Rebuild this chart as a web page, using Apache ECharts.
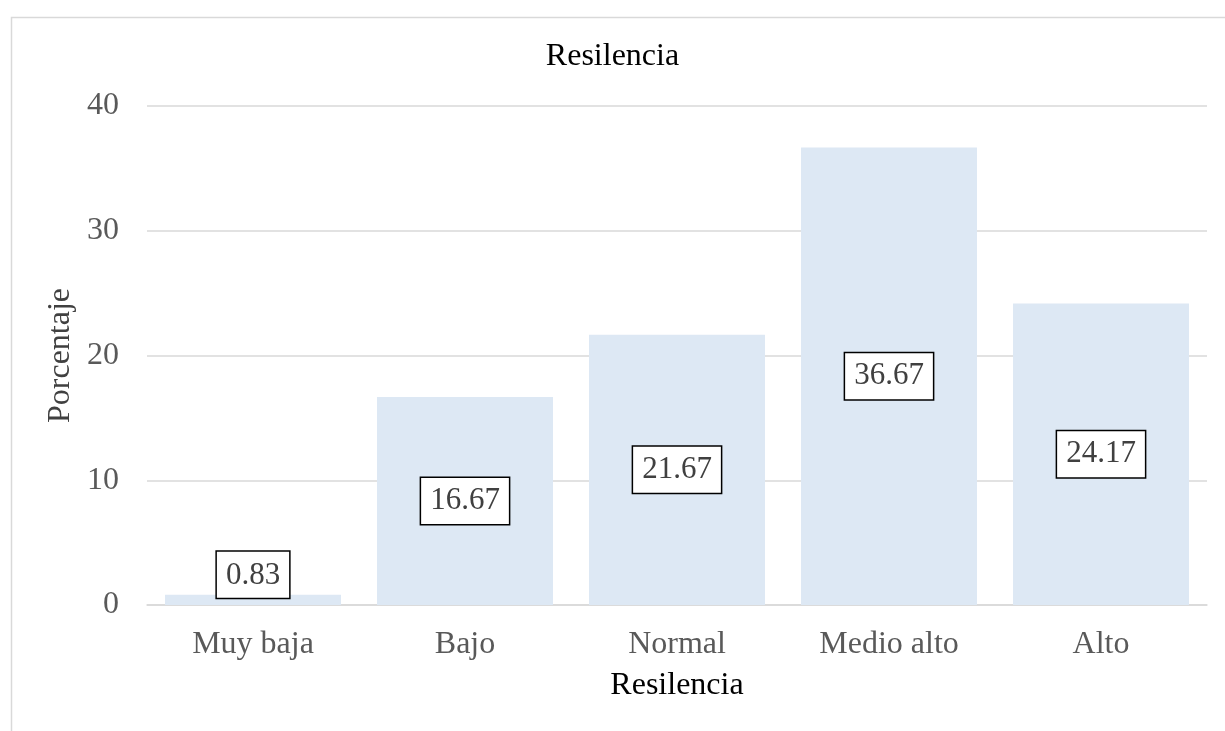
<!DOCTYPE html>
<html>
<head>
<meta charset="utf-8">
<script src="https://cdn.jsdelivr.net/npm/echarts@6/dist/echarts.min.js"></script>
<style>html,body{margin:0;padding:0;background:#fff;}#c{width:1225px;height:731px;}</style>
</head>
<body>
<div id="c"></div>
<script>
const categories = ['Muy baja', 'Bajo', 'Normal', 'Medio alto', 'Alto'];
const values = [0.83, 16.67, 21.67, 36.67, 24.17];
const yTicks = [0, 10, 20, 30, 40];

const chart = echarts.init(document.getElementById('c'));
const serif = '"Liberation Serif","Times New Roman",serif';
chart.setOption({
  backgroundColor: '#fff',
  animation: false,
  graphic: [{
    type: 'rect', left: 9, top: 15,
    shape: { width: 1300, height: 800 },
    style: { fill: 'none', stroke: '#d9d9d9', lineWidth: 1.5 }
  }],
  title: {
    text: 'Resilencia', left: 'center', top: 41, padding: 0,
    textStyle: { fontFamily: serif, fontSize: 32, fontWeight: 'normal', color: '#000' }
  },
  grid: { left: 147, right: 18, top: 106, bottom: 126, containLabel: false },
  xAxis: {
    type: 'category', data: categories,
    name: 'Resilencia', nameLocation: 'middle', nameGap: 65,
    nameTextStyle: { fontFamily: serif, fontSize: 32, color: '#000' },
    axisLine: { lineStyle: { color: '#d9d9d9', width: 1.5 } },
    axisTick: { show: false },
    axisLabel: { fontFamily: serif, fontSize: 32, color: '#595959', margin: 24 }
  },
  yAxis: {
    type: 'value', min: yTicks[0], max: yTicks[yTicks.length - 1], interval: 10,
    name: 'Porcentaje', nameLocation: 'middle', nameGap: 67, nameRotate: 90,
    nameTextStyle: { fontFamily: serif, fontSize: 32, color: '#404040' },
    axisLine: { show: false }, axisTick: { show: false },
    splitLine: { lineStyle: { color: '#d9d9d9', width: 1.5 } },
    axisLabel: { fontFamily: serif, fontSize: 32, color: '#595959', margin: 28 }
  },
  series: [{
    type: 'bar',
    data: values.map((v, i) => ({
      value: v,
      label: i === 0 ? { position: 'top', distance: -3 } : { position: 'inside' }
    })),
    barCategoryGap: '17%',
    itemStyle: { color: '#dde8f4' },
    label: {
      show: true,
      formatter: p => p.value.toFixed(2),
      fontFamily: serif, fontSize: 31, color: '#404040',
      backgroundColor: '#fff', borderColor: '#000', borderWidth: 1.5,
      padding: [9, 9, 6, 9]
    }
  }]
});
</script>
</body>
</html>
